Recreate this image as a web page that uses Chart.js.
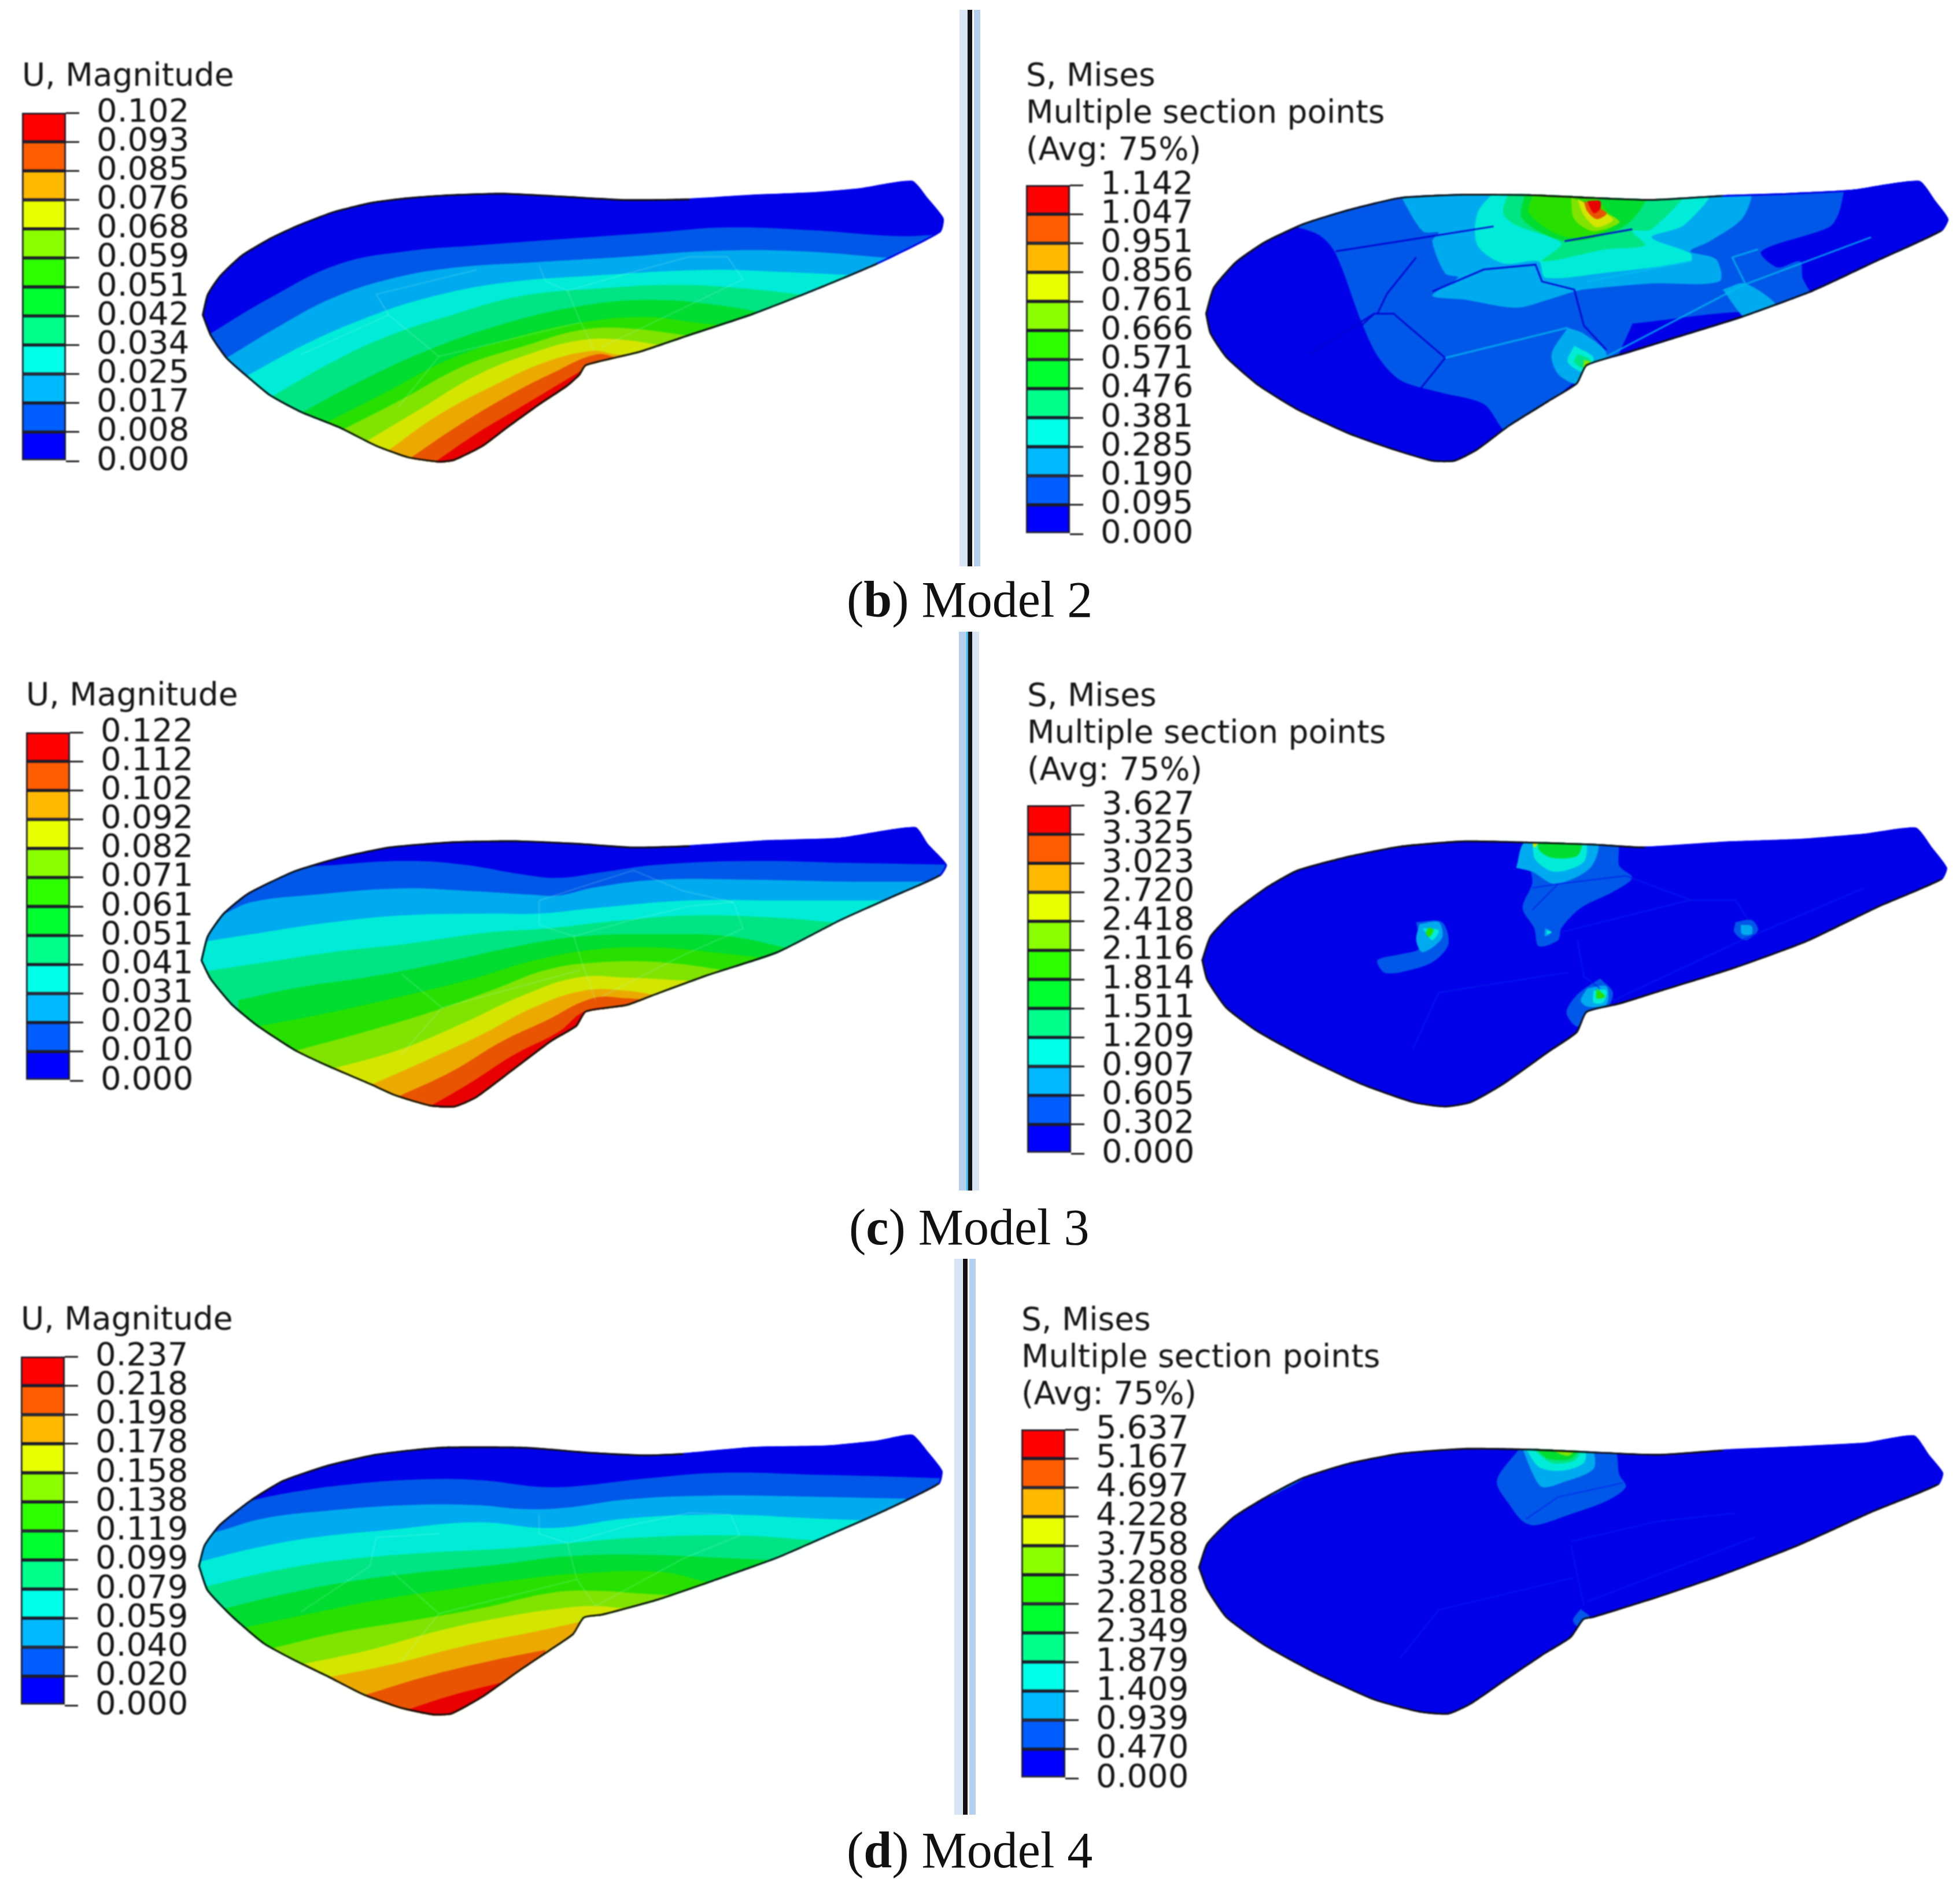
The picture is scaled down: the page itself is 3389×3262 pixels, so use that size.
<!DOCTYPE html>
<html lang="en">
<head>
  <meta charset="UTF-8">
  <title>Model 2-4 wing contours</title>
  <script src="https://cdn.jsdelivr.net/npm/chart.js"></script>
  <style>
    html, body { margin: 0; background: #fff; }
    body { position: relative; width: 3389px; height: 3262px; overflow: hidden; }
    canvas { position: absolute; filter: blur(0.8px); }
    .sep { position: absolute; }
    .cap { position: absolute; font-family: "Liberation Serif"; font-size: 88px; line-height: 1; white-space: pre; color: #111; }
  </style>
</head>
<body>
  <script>
    // legend labels, top to bottom
    const ticksU2 = ['0.102','0.093','0.085','0.076','0.068','0.059','0.051','0.042','0.034','0.025','0.017','0.008','0.000'];
    const ticksS2 = ['1.142','1.047','0.951','0.856','0.761','0.666','0.571','0.476','0.381','0.285','0.190','0.095','0.000'];
    const ticksU3 = ['0.122','0.112','0.102','0.092','0.082','0.071','0.061','0.051','0.041','0.031','0.020','0.010','0.000'];
    const ticksS3 = ['3.627','3.325','3.023','2.720','2.418','2.116','1.814','1.511','1.209','0.907','0.605','0.302','0.000'];
    const ticksU4 = ['0.237','0.218','0.198','0.178','0.158','0.138','0.119','0.099','0.079','0.059','0.040','0.020','0.000'];
    const ticksS4 = ['5.637','5.167','4.697','4.228','3.758','3.288','2.818','2.349','1.879','1.409','0.939','0.470','0.000'];

    const legendColors = ['#0000ff','#005dff','#00b9ff','#00ffe8','#00ff8b','#00ff2e','#2eff00','#8bff00','#e8ff00','#ffb900','#ff5d00','#ff0000'];
    const wingColors = ['#0000e8','#0058e8','#00aaee','#00ecd8','#00e484','#00dc30','#28e000','#80e400','#d4e600','#ecaa00','#e85400','#e80000'];

    // outlines and contour lines (crop units, 0-1568)
    const outlineU2 = [[322,745],[330,690],[350,640],[385,585],[430,540],[475,505],[530,470],[590,445],[650,432],[720,424],[800,420],[900,428],[1000,437],[1100,435],[1200,425],[1300,418],[1370,408],[1455,388],[1480,435],[1505,488],[1500,525],[1400,610],[1300,680],[1200,745],[1100,800],[1020,845],[935,880],[925,905],[905,935],[860,985],[810,1045],[770,1095],[725,1132],[700,1137],[650,1125],[600,1095],[540,1045],[480,1005],[430,960],[390,905],[360,860],[335,800]];
    const bandsU2 = [
      [[330,800],[430,700],[540,610],[650,575],[760,560],[880,545],[1050,525],[1160,512],[1300,520],[1430,535],[1510,530]],
      [[360,860],[450,770],[530,700],[620,650],[720,620],[850,605],[1000,590],[1130,575],[1270,575],[1430,595]],
      [[395,905],[490,820],[580,755],[680,700],[800,660],[950,640],[1130,625],[1240,630],[1370,640]],
      [[435,960],[530,870],[620,800],[720,745],[830,695],[950,675],[1080,665],[1190,675],[1300,695]],
      [[475,1010],[570,925],[680,840],[800,770],[930,720],[1040,705],[1150,720],[1250,750]],
      [[515,1035],[610,955],[720,860],[830,800],[925,765],[1030,750],[1110,765],[1195,780]],
      [[540,1055],[640,970],[740,880],[840,825],[925,785],[1000,780],[1100,800]],
      [[580,1085],[670,995],[760,905],[850,845],[925,812],[990,810],[1070,830]],
      [[615,1110],[700,1010],[790,930],[870,870],[945,840],[985,850],[1025,850]],
      [[650,1130],[730,1040],[810,960],[880,900],[950,850],[985,860],[990,870]],
      [[690,1140],[760,1060],[830,990],[905,915],[935,885]]
    ];
    const meshU2 = [
      [[860,615],[870,655],[905,680],[925,760],[948,840]],
      [[905,680],[1000,635],[1100,590],[1160,590],[1185,650],[1085,730],[960,830]],
      [[620,745],[700,855],[635,990]],
      [[700,855],[925,765]],
      [[480,850],[620,745],[600,690],[760,625]]
    ];

    const outlineU3 = [[320,785],[330,720],[355,660],[395,605],[470,545],[540,510],[620,482],[720,468],[820,465],[920,472],[1010,482],[1100,478],[1220,465],[1340,458],[1460,430],[1480,475],[1510,530],[1500,560],[1420,620],[1340,680],[1240,765],[1130,825],[1040,880],[1000,905],[935,922],[920,960],[880,1000],[820,1075],[760,1150],[725,1175],[685,1172],[630,1145],[590,1115],[520,1065],[470,1025],[410,960],[370,905],[335,835]];
    const bandsU3 = [
      [[300,640],[385,615],[470,545],[540,530],[650,520],[740,530],[830,555],[890,565],[960,550],[1050,530],[1200,520],[1350,525],[1515,530]],
      [[290,685],[350,665],[400,630],[500,610],[640,593],[750,600],[850,610],[890,612],[950,590],[1050,570],[1200,570],[1350,575],[1480,575]],
      [[270,750],[325,735],[420,710],[520,685],[640,665],[780,660],[860,660],[950,645],[1100,625],[1230,625],[1350,625],[1435,625]],
      [[260,830],[320,815],[420,790],[540,760],[650,740],[780,710],[870,700],[980,680],[1100,665],[1230,670],[1340,685]],
      [[380,890],[480,855],[600,825],[720,785],[830,745],[930,720],[1050,715],[1160,720],[1265,755]],
      [[410,960],[520,925],[640,880],[750,835],[850,785],[950,755],[1050,750],[1150,765],[1230,780]],
      [[470,1025],[580,975],[690,920],[790,860],[870,810],[950,790],[1060,790],[1175,815]],
      [[525,1075],[640,1020],[740,950],[830,880],[920,830],[1000,830],[1115,840]],
      [[585,1120],[680,1050],[770,980],[850,910],[930,865],[1000,865],[1055,880]],
      [[630,1150],[720,1080],[800,1000],[870,945],[945,885],[1000,885],[1035,890]],
      [[680,1178],[750,1110],[820,1035],[890,975],[935,918],[1000,908]]
    ];
    const meshU3 = [
      [[860,625],[860,690],[915,720],[930,800],[950,890]],
      [[915,720],[1000,680],[1100,640],[1170,630],[1185,700],[1090,770],[960,880]],
      [[640,820],[705,910],[640,1035]],
      [[705,910],[925,810]],
      [[860,625],[1010,545],[1090,600],[1170,630]]
    ];

    const outlineU4 = [[316,725],[325,670],[350,615],[400,550],[450,500],[520,460],[600,430],[700,412],[840,412],[940,425],[1030,432],[1090,428],[1200,412],[1320,408],[1400,395],[1455,380],[1480,425],[1503,475],[1498,510],[1400,590],[1310,655],[1240,705],[1130,770],[1050,815],[960,855],[932,862],[915,905],[880,945],[830,1000],[770,1070],[720,1115],[690,1117],[640,1100],[580,1065],[520,1015],[470,975],[420,930],[370,860],[330,790]];
    const bandsU4 = [
      [[330,580],[395,555],[470,530],[560,510],[680,497],[770,500],[860,517],[920,515],[1030,495],[1150,480],[1300,485],[1420,490],[1510,495]],
      [[290,655],[345,635],[420,600],[520,580],[650,565],[760,565],[830,575],[900,572],[1000,550],[1130,540],[1300,543],[1445,548]],
      [[260,735],[315,715],[400,680],[500,650],[620,630],[760,610],[880,625],[1000,600],[1150,590],[1300,600],[1385,605]],
      [[270,800],[325,780],[430,740],[540,710],[680,690],[800,680],[905,665],[1020,650],[1180,645],[1315,660]],
      [[350,840],[450,800],[560,765],[680,740],[800,720],[900,700],[1020,695],[1170,705],[1245,710]],
      [[380,890],[480,855],[600,815],[720,785],[830,760],[920,745],[1050,740],[1135,770]],
      [[425,945],[540,900],[650,870],[770,835],[880,795],[950,790],[1050,800],[1090,800]],
      [[475,985],[590,945],[700,895],[800,860],[900,835],[950,830],[1000,835],[1050,820]],
      [[515,1020],[620,985],[740,935],[860,895],[930,870]],
      [[580,1065],[680,1015],[780,975],[870,945]],
      [[645,1105],[720,1065],[815,1025]]
    ];
    const meshU4 = [
      [[860,590],[860,640],[905,665],[920,760],[950,830]],
      [[905,665],[1000,620],[1100,585],[1165,590],[1180,645],[1090,705],[950,830]],
      [[625,740],[700,850],[640,975]],
      [[700,850],[920,760]],
      [[480,845],[590,725],[600,650],[700,640]]
    ];

    const outlineS2 = [[398,780],[410,715],[445,650],[490,600],[550,555],[620,520],[700,490],[800,482],[900,483],[1000,490],[1090,495],[1200,485],[1300,480],[1400,472],[1505,450],[1530,500],[1550,545],[1540,575],[1440,650],[1340,725],[1230,790],[1130,840],[1050,880],[990,910],[975,955],[930,1000],[870,1060],[820,1120],[785,1148],[750,1148],[690,1120],[620,1080],[540,1020],[480,960],[430,890],[405,830]];
    // colour index of each patch, painted in this order
    const patchBandS2 = [1,0,0,2,3,4,5,6,7,8,10,11,2,3,4,7,2];
    const patchesS2 = [
      [[530,560],[620,500],[700,470],[1300,460],[1600,460],[1600,800],[1340,740],[1130,860],[990,930],[870,1075],[830,1005],[760,975],[700,945],[665,885],[640,800],[600,630],[575,585]],
      [[1390,460],[1380,530],[1365,565],[1260,625],[1285,665],[1320,650],[1325,695],[1350,740],[1600,600],[1600,460]],
      [[1060,805],[1240,775],[1250,800],[1130,860],[1040,900]],
      [[695,470],[1240,470],[1232,540],[1180,600],[1150,625],[1190,645],[1195,700],[1090,705],[985,720],[970,725],[930,745],[880,765],[800,745],[750,735],[790,690],[770,680],[750,600],[760,578],[735,575]],
      [[850,470],[1180,470],[1140,560],[1090,590],[1150,630],[1150,650],[1010,680],[925,690],[915,650],[860,655],[820,610],[820,530]],
      [[870,470],[1140,470],[1090,570],[1060,575],[1080,610],[1020,620],[920,650],[950,605],[880,560],[860,530]],
      [[895,470],[1080,480],[1050,560],[960,600],[890,545]],
      [[910,470],[985,470],[1030,560],[960,590],[900,530]],
      [[965,490],[1040,550],[1000,575],[970,545]],
      [[975,495],[1030,545],[1005,565],[985,535]],
      [[985,500],[1020,530],[1005,545],[990,525]],
      [[990,500],[1010,500],[1010,520],[1000,530]],
      [[960,815],[985,830],[1020,880],[990,920],[975,955],[945,930],[935,880]],
      [[970,860],[1000,890],[985,925],[960,900]],
      [[975,880],[995,895],[985,915],[970,900]],
      [[985,895],[995,900],[985,915]],
      [[1200,720],[1235,705],[1285,765],[1240,795]]
    ];
    const meshS2 = [
      [[600,625],[700,600],[845,563]],
      [[955,600],[1060,570]],
      [[665,780],[680,730],[725,640]],
      [[640,810],[660,780],[690,780],[770,890],[730,970]],
      [[660,780],[560,880]],
      [[750,725],[830,670],[910,658],[920,700],[970,720],[985,810],[1020,870]]
    ];
    const lightS2 = [
      [[770,890],[960,815]],
      [[1010,895],[1230,710],[1430,590]],
      [[1215,640],[1255,620]],
      [[1215,640],[1235,705]],
      [[990,700],[1150,650]]
    ];

    const outlineS3 = [[392,820],[405,760],[440,700],[490,640],[540,595],[620,560],[700,535],[800,522],[900,525],[1000,530],[1080,537],[1200,525],[1320,518],[1420,505],[1500,490],[1525,540],[1548,590],[1540,620],[1440,690],[1330,775],[1220,840],[1100,900],[1040,930],[990,950],[975,1000],[930,1050],[860,1130],[810,1175],[770,1186],[720,1175],[640,1130],[560,1070],[480,1000],[430,940],[400,870]];
    const patchBandS3 = [1,2,3,5,1,2,3,6,1,2,3,1,2,1,2,3,6,8];
    const patchesS3 = [
      [[895,560],[910,525],[1035,525],[1040,585],[1060,615],[1030,650],[980,690],[950,740],[945,770],[915,785],[908,740],[890,690],[905,625]],
      [[880,590],[895,525],[1005,525],[995,590],[940,630],[905,600]],
      [[905,520],[985,520],[985,575],[940,600],[910,570]],
      [[915,520],[980,520],[975,560],[935,565],[915,545]],
      [[725,725],[765,725],[775,780],[750,825],[700,850],[675,850],[665,820],[700,805],[730,790]],
      [[730,730],[760,725],[765,765],[735,800],[725,770]],
      [[735,740],[760,745],[750,770]],
      [[745,738],[752,745],[745,762],[740,752]],
      [[915,740],[940,730],[945,760],[920,770]],
      [[925,740],[935,750],[925,760]],
      [[928,745],[935,750],[928,755]],
      [[1220,725],[1245,720],[1255,745],[1235,770],[1218,750]],
      [[1228,732],[1245,735],[1245,755],[1230,755]],
      [[1010,865],[1030,900],[1020,940],[990,950],[975,985],[958,950],[975,905]],
      [[990,890],[1020,885],[1020,930],[990,935],[980,920]],
      [[1000,895],[1020,895],[1015,925],[1000,925]],
      [[1005,890],[1018,910],[1005,915]],
      [[905,525],[915,525],[908,540]]
    ];
    const meshS3 = [
      [[905,640],[945,630],[1050,610]],
      [[905,695],[945,630]],
      [[760,900],[960,850]],
      [[760,900],[720,1040]],
      [[975,770],[985,860],[1010,890]],
      [[1050,610],[1150,670],[1220,670],[1240,720]],
      [[950,750],[1150,670]],
      [[1030,920],[1230,770],[1420,640]]
    ];

    const outlineS4 = [[387,775],[400,715],[440,650],[490,600],[550,550],[620,515],[700,490],[800,478],[900,480],[1000,487],[1100,493],[1200,482],[1300,475],[1420,465],[1497,447],[1520,495],[1542,540],[1535,570],[1430,640],[1320,720],[1200,795],[1100,850],[1000,900],[985,905],[965,950],[920,995],[860,1060],[810,1115],[775,1140],[730,1135],[660,1105],[570,1040],[490,970],[430,900],[400,830]];
    const patchBandS4 = [1,2,3,4,5,7,1,1];
    const patchesS4 = [
      [[885,480],[1030,480],[1040,545],[1050,575],[1020,610],[960,645],[910,670],[890,660],[870,620],[850,560]],
      [[890,480],[995,480],[1000,530],[950,565],[920,575],[905,540]],
      [[895,480],[985,480],[985,515],[950,535],[915,525]],
      [[905,480],[980,480],[970,510],[935,515]],
      [[910,480],[975,480],[965,505],[930,505]],
      [[930,480],[972,480],[960,498]],
      [[980,878],[995,900],[975,920],[968,905]],
      [[495,600],[540,550],[550,555],[510,590]]
    ];
    const meshS4 = [
      [[895,655],[945,600],[1045,565]],
      [[760,880],[970,800]],
      [[760,880],[700,1000]],
      [[965,720],[985,870]],
      [[965,710],[1100,660],[1220,640]],
      [[990,860],[1250,700]]
    ];
  </script>
  <script>
    const SPAN = 1568;

    function pts(list) {
      return list.map(p => ({ x: p[0], y: p[1] }));
    }

    function makeCanvas(left, top, w, h) {
      const c = document.createElement('canvas');
      c.width = w;
      c.height = h;
      c.style.left = left + 'px';
      c.style.top = top + 'px';
      c.style.width = w + 'px';
      c.style.height = h + 'px';
      document.body.appendChild(c);
      return c;
    }

    function makeWing(p) {
      const closed = p.outline.concat([p.outline[0]]);
      const sets = [{ data: pts(closed), fill: 'shape', backgroundColor: wingColors[0], borderWidth: 0, tension: 0.18 }];
      (p.bands || []).forEach((b, i) => {
        sets.push({ data: pts(b), fill: 'start', backgroundColor: wingColors[i + 1], borderWidth: 0, tension: 0.4 });
      });
      (p.patches || []).forEach((b, i) => {
        sets.push({ data: pts(b.concat([b[0]])), fill: 'shape', backgroundColor: wingColors[p.patchBand[i]], borderWidth: 0, tension: 0.3 });
      });
      (p.mesh || []).forEach(b => {
        sets.push({ data: pts(b), borderColor: p.meshColor, borderWidth: p.meshWidth, fill: false });
      });
      (p.light || []).forEach(b => {
        sets.push({ data: pts(b), borderColor: 'rgba(0,190,240,0.75)', borderWidth: 3, fill: false });
      });
      // stroke is twice the wanted width, the clip below cuts the outer half
      sets.push({
        data: pts(closed), fill: false, borderColor: '#111', borderWidth: 6, tension: 0.18,
        segment: { borderColor: ctx => (ctx.p0DataIndex >= p.topFrom && ctx.p0DataIndex < p.topTo) ? p.topColor : undefined }
      });
      sets.forEach((s, i) => {
        s.showLine = true;
        s.pointRadius = 0;
        s.order = sets.length - i;
      });

      const clipToWing = {
        id: 'clipToWing',
        beforeDatasetsDraw(chart) {
          const ctx = chart.ctx;
          const line = chart.getDatasetMeta(0).dataset;
          line.updateControlPoints(chart.chartArea);
          ctx.save();
          ctx.beginPath();
          line.path(ctx);
          ctx.closePath();
          ctx.clip();
        },
        afterDatasetsDraw(chart) {
          chart.ctx.restore();
        }
      };

      new Chart(makeCanvas(p.left, p.top, p.w, p.h), {
        type: 'scatter',
        data: { datasets: sets },
        plugins: [clipToWing],
        options: {
          responsive: false,
          animation: false,
          devicePixelRatio: 1,
          layout: { padding: 0 },
          scales: {
            x: { type: 'linear', display: false, min: 0, max: SPAN },
            y: { type: 'linear', display: false, min: 0, max: SPAN, reverse: true }
          },
          plugins: { legend: { display: false }, tooltip: { enabled: false } }
        }
      });
    }

    function makeLegend(p) {
      const barW = 76;
      const barH = p.barH;
      const lines = p.title.length;
      const titleH = lines * 64 + p.gap;
      const w = p.w;
      const sets = legendColors.map(col => ({
        data: [1], backgroundColor: col, borderColor: '#1c1c2a', borderWidth: 3, borderSkipped: false,
        barPercentage: 1, categoryPercentage: 1, stack: 'bar'
      }));
      new Chart(makeCanvas(p.left, p.barTop - titleH, w, titleH + barH + 34), {
        type: 'bar',
        data: { labels: [''], datasets: sets },
        options: {
          responsive: false,
          animation: false,
          devicePixelRatio: 1,
          layout: { padding: { bottom: 34 } },
          scales: {
            x: { display: false, stacked: true },
            y: {
              stacked: true, position: 'right', min: 0, max: 12,
              afterFit(scale) {
                scale.width = w - barW;
                scale.paddingTop = 0;
                scale.paddingBottom = 0;
              },
              ticks: {
                stepSize: 1, autoSkip: false, padding: 30, color: '#151515',
                font: { family: 'DejaVu Sans', size: 56 },
                callback: v => p.ticks[12 - v]
              },
              grid: { drawOnChartArea: false, color: '#222', lineWidth: 3, tickLength: 23 },
              border: { display: false }
            }
          },
          plugins: {
            legend: { display: false },
            tooltip: { enabled: false },
            title: {
              display: true, text: p.title, align: 'start', color: '#151515',
              font: { family: 'DejaVu Sans', size: 55, weight: 'normal', lineHeight: 64 / 55 },
              padding: { top: 0, bottom: p.gap }
            }
          }
        }
      });
    }

    function addSep(left, top, w, h, col) {
      const d = document.createElement('div');
      d.className = 'sep';
      d.style.cssText = `left:${left}px;top:${top}px;width:${w}px;height:${h}px;background:${col}`;
      document.body.appendChild(d);
    }

    function addCap(left, top, letter, rest) {
      const d = document.createElement('div');
      d.className = 'cap';
      d.style.left = left + 'px';
      d.style.top = top + 'px';
      d.innerHTML = `(<b>${letter}</b>) ${rest}`;
      document.body.appendChild(d);
    }

    // separators
    addSep(1659, 17, 14, 962, '#d6e4f4'); addSep(1673, 17, 8, 962, '#111'); addSep(1684, 17, 11, 962, '#b5d0ee');
    addSep(1658, 1092, 13, 966, '#b5d0ee'); addSep(1671, 1092, 3, 966, '#30c0f0'); addSep(1674, 1092, 7, 966, '#111'); addSep(1681, 1092, 12, 966, '#d6e4f4');
    addSep(1650, 2176, 14, 961, '#d6e4f4'); addSep(1665, 2176, 8, 961, '#111'); addSep(1676, 2176, 11, 961, '#b5d0ee');

    addCap(1464, 993, 'b', 'Model 2');
    addCap(1468, 2078, 'c', 'Model 3');
    addCap(1464, 3155, 'd', 'Model 4');

    const meshU = 'rgba(170,255,240,0.22)';
    const meshS = 'rgba(0,0,210,0.9)';
    makeWing({ left: 0, top: 60, w: 1700, h: 1020, outline: outlineU2, bands: bandsU2, mesh: meshU2, meshColor: meshU, meshWidth: 2, topFrom: 13, topTo: 21, topColor: 'rgba(0,0,232,1)' });
    makeWing({ left: 0, top: 1150, w: 1700, h: 1020, outline: outlineU3, bands: bandsU3, mesh: meshU3, meshColor: meshU, meshWidth: 2, topFrom: 11, topTo: 17, topColor: 'rgba(0,0,232,1)' });
    makeWing({ left: 0, top: 2230, w: 1700, h: 1032, outline: outlineU4, bands: bandsU4, mesh: meshU4, meshColor: meshU, meshWidth: 2, topFrom: 11, topTo: 18, topColor: 'rgba(0,0,232,1)' });
    makeWing({ left: 1640, top: 0, w: 1749, h: 1090, outline: outlineS2, patches: patchesS2, patchBand: patchBandS2, mesh: meshS2, light: lightS2, meshColor: meshS, meshWidth: 3, topFrom: 11, topTo: 17, topColor: 'rgba(0,0,232,1)' });
    makeWing({ left: 1640, top: 1090, w: 1749, h: 1090, outline: outlineS3, patches: patchesS3, patchBand: patchBandS3, mesh: meshS3, meshColor: 'rgba(0,30,235,0.8)', meshWidth: 2, topFrom: 10, topTo: 17, topColor: 'rgba(0,0,232,1)' });
    makeWing({ left: 1640, top: 2170, w: 1749, h: 1092, outline: outlineS4, patches: patchesS4, patchBand: patchBandS4, mesh: meshS4, meshColor: 'rgba(0,30,240,0.7)', meshWidth: 2, topFrom: 11, topTo: 17, topColor: 'rgba(0,0,232,1)' });

    const titleU = ['U, Magnitude'];
    const titleS = ['S, Mises', 'Multiple section points', '(Avg: 75%)'];
    makeLegend({ left: 38, barTop: 195, barH: 602, w: 420, gap: 29, title: titleU, ticks: ticksU2 });
    makeLegend({ left: 45, barTop: 1266, barH: 602, w: 420, gap: 29, title: titleU, ticks: ticksU3 });
    makeLegend({ left: 36, barTop: 2345, barH: 603, w: 420, gap: 29, title: titleU, ticks: ticksU4 });
    makeLegend({ left: 1774, barTop: 320, barH: 603, w: 680, gap: 26, title: titleS, ticks: ticksS2 });
    makeLegend({ left: 1776, barTop: 1392, barH: 602, w: 680, gap: 26, title: titleS, ticks: ticksS3 });
    makeLegend({ left: 1766, barTop: 2471, barH: 603, w: 680, gap: 26, title: titleS, ticks: ticksS4 });
  </script>
</body>
</html>
